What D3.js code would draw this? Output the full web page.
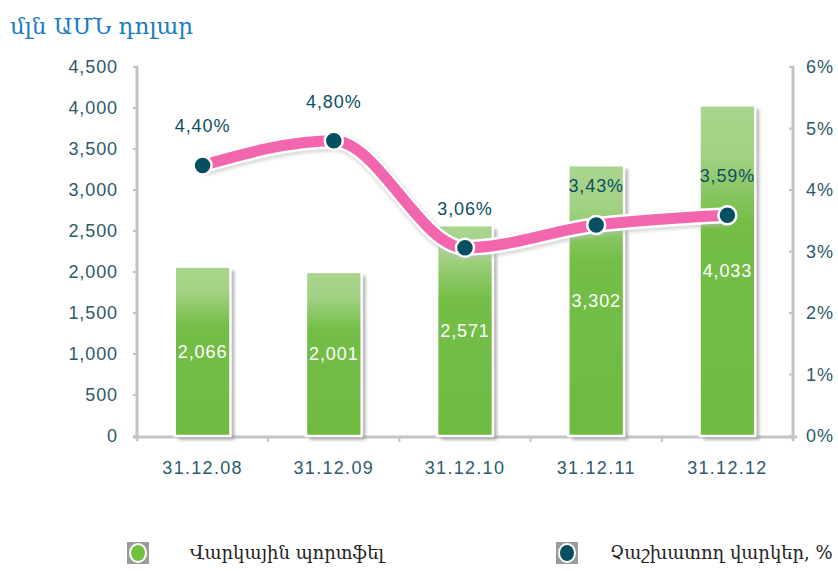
<!DOCTYPE html>
<html>
<head>
<meta charset="utf-8">
<script src="https://cdn.jsdelivr.net/npm/d3@7"></script>
<style>
  body { margin: 0; background: #fff; }
  svg text { font-family: "Liberation Sans", Arial, sans-serif; }
</style>
</head>
<body>
<svg width="838" height="571"></svg>
<script>
var years = ["31.12.08", "31.12.09", "31.12.10", "31.12.11", "31.12.12"];
var portfolio = [2066, 2001, 2571, 3302, 4033];
var rates = [4.40, 4.80, 3.06, 3.43, 3.59];
var leftTicks = [0, 500, 1000, 1500, 2000, 2500, 3000, 3500, 4000, 4500];
var rightTicks = [0, 1, 2, 3, 4, 5, 6];
var legendNames = ["Վարկային պորտֆել", "Չաշխատող վարկեր, %"];

var svg = d3.select("svg");
var x0 = 137, x1 = 793, yTop = 67, yBase = 436;
var labelColor = "#2c5a68";

var x = d3.scaleBand().domain(years).range([x0, x1]).paddingInner(0.575).paddingOuter(0.2875);
var y = d3.scaleLinear().domain([0, 4500]).range([yBase, yTop]);
var y2 = d3.scaleLinear().domain([0, 6]).range([yBase, yTop]);
var fmt = d3.format(",d");

var defs = svg.append("defs");
var grad = defs.append("linearGradient").attr("id", "barGrad")
  .attr("x1", 0).attr("y1", 0).attr("x2", 0).attr("y2", 1);
grad.append("stop").attr("offset", "0%").attr("stop-color", "#aad58d");
grad.append("stop").attr("offset", "15%").attr("stop-color", "#a3d184");
grad.append("stop").attr("offset", "35%").attr("stop-color", "#74be47");
grad.append("stop").attr("offset", "100%").attr("stop-color", "#6fbb42");

var blur = defs.append("filter").attr("id", "shadow").attr("x", "-20%").attr("y", "-20%").attr("width", "150%").attr("height", "150%");
blur.append("feGaussianBlur").attr("stdDeviation", 1.5);

// title
svg.append("text")
  .attr("x", 10).attr("y", 34)
  .style("font-family", "'DejaVu Serif', serif")
  .style("font-size", "23px")
  .attr("fill", "#1b7cc4")
  .text("մլն ԱՄՆ դոլար");

// axes lines
var axisG = svg.append("g");
axisG.append("line").attr("x1", x0).attr("x2", x0).attr("y1", yTop).attr("y2", yBase + 4)
  .attr("stroke", "#c3c4c6").attr("stroke-width", 3).attr("stroke-linecap", "round");
axisG.append("line").attr("x1", x1).attr("x2", x1).attr("y1", yTop).attr("y2", yBase + 4)
  .attr("stroke", "#c3c4c6").attr("stroke-width", 3).attr("stroke-linecap", "round");
axisG.append("line").attr("x1", x0 - 4).attr("x2", x1 + 4).attr("y1", yBase + 1).attr("y2", yBase + 1)
  .attr("stroke", "#c3c4c6").attr("stroke-width", 3);

var numStyle = function(sel) {
  sel.style("font-size", "18px").style("letter-spacing", "0.9px");
};

// left ticks
var lt = svg.append("g").selectAll("g").data(leftTicks).enter().append("g")
  .attr("transform", function(d) { return "translate(0," + y(d) + ")"; });
lt.append("line").attr("x1", x0 - 4).attr("x2", x0).attr("stroke", "#c3c4c6").attr("stroke-width", 2);
lt.append("text").attr("x", 118).attr("dy", "0.35em").attr("text-anchor", "end")
  .attr("fill", labelColor).call(numStyle)
  .text(function(d) { return fmt(d); });

// right ticks
var rt = svg.append("g").selectAll("g").data(rightTicks).enter().append("g")
  .attr("transform", function(d) { return "translate(0," + y2(d) + ")"; });
rt.append("line").attr("x1", x1 - 4).attr("x2", x1).attr("stroke", "#c3c4c6").attr("stroke-width", 2);
rt.append("text").attr("x", 806).attr("dy", "0.35em")
  .attr("fill", labelColor).call(numStyle)
  .text(function(d) { return d + "%"; });

// category ticks + labels
var step = x.step();
svg.append("g").selectAll("line").data(years.slice(1)).enter().append("line")
  .attr("x1", function(d) { return x(d) - step * 0.2875; })
  .attr("x2", function(d) { return x(d) - step * 0.2875; })
  .attr("y1", yBase + 2).attr("y2", yBase + 6)
  .attr("stroke", "#c3c4c6").attr("stroke-width", 2);
svg.append("g").selectAll("text").data(years).enter().append("text")
  .attr("x", function(d) { return x(d) + x.bandwidth() / 2; })
  .attr("y", 474).attr("text-anchor", "middle")
  .attr("fill", labelColor).style("font-size", "18px").style("letter-spacing", "1.3px")
  .text(function(d) { return d; });

// bars
var bars = svg.append("g").selectAll("g").data(portfolio).enter().append("g");
bars.append("rect")
  .attr("x", function(d, i) { return x(years[i]) + 4; })
  .attr("y", function(d) { return y(d) + 4; })
  .attr("width", x.bandwidth())
  .attr("height", function(d) { return yBase - y(d); })
  .attr("fill", "#9a9a9a").attr("opacity", 0.7).attr("filter", "url(#shadow)");
bars.append("rect")
  .attr("x", function(d, i) { return x(years[i]); })
  .attr("y", function(d) { return y(d); })
  .attr("width", x.bandwidth())
  .attr("height", function(d) { return yBase - y(d); })
  .attr("fill", "url(#barGrad)")
  .attr("stroke", "#fff").attr("stroke-width", 2.5);
bars.append("text")
  .attr("x", function(d, i) { return x(years[i]) + x.bandwidth() / 2; })
  .attr("y", function(d) { return (y(d) + yBase) / 2; })
  .attr("dy", "0.35em").attr("text-anchor", "middle")
  .attr("fill", "#fff").call(numStyle)
  .text(function(d) { return fmt(d); });

// rate line
var pts = rates.map(function(d, i) { return [x(years[i]) + x.bandwidth() / 2, y2(d)]; });
var line = d3.line().curve(d3.curveMonotoneX);
svg.append("path").attr("d", line(pts)).attr("fill", "none")
  .attr("stroke", "#bbb").attr("stroke-width", 18).attr("opacity", 0.5)
  .attr("transform", "translate(1,2)").attr("filter", "url(#shadow)");
svg.append("path").attr("d", line(pts)).attr("fill", "none")
  .attr("stroke", "#fff").attr("stroke-width", 16).attr("stroke-linecap", "round");
svg.append("path").attr("d", line(pts)).attr("fill", "none")
  .attr("stroke", "#f266ad").attr("stroke-width", 11).attr("stroke-linecap", "round");

svg.append("g").selectAll("circle").data(pts).enter().append("circle")
  .attr("cx", function(d) { return d[0]; }).attr("cy", function(d) { return d[1]; })
  .attr("r", 9).attr("fill", "#064f63").attr("stroke", "#fff").attr("stroke-width", 2.5);

svg.append("g").selectAll("text").data(rates).enter().append("text")
  .attr("x", function(d, i) { return x(years[i]) + x.bandwidth() / 2; })
  .attr("y", function(d) { return y2(d) - 33; })
  .attr("text-anchor", "middle")
  .attr("fill", "#0d4f63").call(numStyle)
  .text(function(d) { return d.toFixed(2).replace(".", ",") + "%"; });

// legend
var legX = [138, 567], legTextX = [190, 610], legY = 553;
var legColors = ["#74c142", "#064f63"];
var leg = svg.append("g").selectAll("g").data(legendNames).enter().append("g")
  .attr("transform", function(d, i) { return "translate(" + legX[i] + "," + legY + ")"; });
leg.append("rect").attr("x", -11).attr("y", -11).attr("width", 22).attr("height", 22)
  .attr("fill", "#9b9b9b");
leg.append("ellipse").attr("rx", 9).attr("ry", 10).attr("fill", "#fff");
leg.append("ellipse").attr("rx", 7).attr("ry", 8)
  .attr("fill", function(d, i) { return legColors[i]; });
leg.append("text")
  .attr("x", function(d, i) { return legTextX[i] - legX[i]; })
  .attr("dy", "0.35em")
  .style("font-family", "'DejaVu Serif', serif")
  .style("font-size", "18px").attr("fill", "#222")
  .text(function(d) { return d; });
</script>
</body>
</html>
